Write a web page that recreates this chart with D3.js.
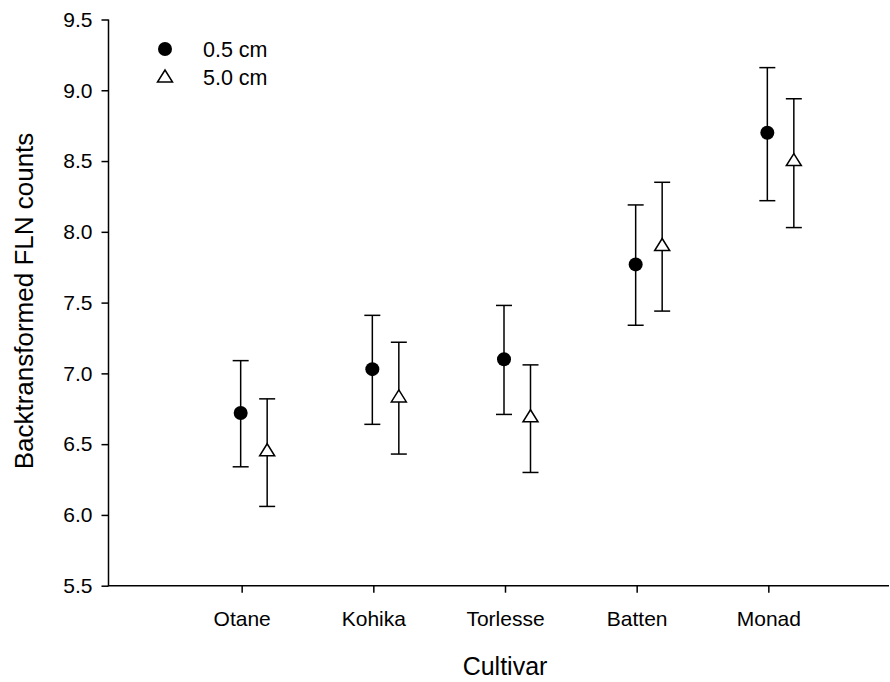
<!DOCTYPE html>
<html>
<head>
<meta charset="utf-8">
<script src="https://cdn.jsdelivr.net/npm/d3@7"></script>
<style>
  html, body { margin: 0; padding: 0; background: #fff; }
  svg { display: block; font-family: "Liberation Sans", Arial, sans-serif; }
</style>
</head>
<body>
<svg id="chart" width="890" height="682"></svg>
<script>
// Cultivars on the x axis
const cultivars = ["Otane", "Kohika", "Torlesse", "Batten", "Monad"];

// 0.5 cm treatment: mean and error-bar limits
const mean05  = [6.72, 7.03, 7.10, 7.77, 8.70];
const upper05 = [7.09, 7.41, 7.48, 8.19, 9.16];
const lower05 = [6.34, 6.64, 6.71, 7.34, 8.22];

// 5.0 cm treatment: mean and error-bar limits
const mean50  = [6.45, 6.83, 6.69, 7.90, 8.50];
const upper50 = [6.82, 7.22, 7.06, 8.35, 8.94];
const lower50 = [6.06, 6.43, 6.30, 7.44, 8.03];

const yTicks = [5.5, 6.0, 6.5, 7.0, 7.5, 8.0, 8.5, 9.0, 9.5];
const legendLabels = ["0.5 cm", "5.0 cm"];

const svg = d3.select("#chart");
const axisX0 = 108.5, axisX1 = 889;
const yTop = 19.5, yBottom = 585.7;

const y = d3.scaleLinear().domain([5.5, 9.5]).range([yBottom, yTop]);
// category positions 1..5 on a linear scale
const x = d3.scaleLinear().domain([0, 6]).range([110, 900]);

const ink = "#000";
const font = "Liberation Sans, Arial, sans-serif";

// Y axis
const yAxis = d3.axisLeft(y).tickValues(yTicks).tickFormat(d3.format(".1f"))
  .tickSize(7).tickPadding(9);
const gy = svg.append("g").attr("transform", `translate(${axisX0},0)`).call(yAxis);
gy.select(".domain").remove();
gy.append("line").attr("x1", 0).attr("x2", 0).attr("y1", yTop).attr("y2", yBottom)
  .attr("stroke", ink).attr("stroke-width", 1.5);
gy.selectAll(".tick line").attr("stroke", ink).attr("stroke-width", 1.5);
gy.selectAll(".tick text").attr("fill", ink).attr("font-size", 21).attr("font-family", font);

// X axis
const xAxis = d3.axisBottom(x).tickValues(d3.range(1, cultivars.length + 1))
  .tickFormat(i => cultivars[i - 1]).tickSize(7).tickPadding(18);
const gx = svg.append("g").attr("transform", `translate(0,${yBottom})`).call(xAxis);
gx.select(".domain").remove();
gx.append("line").attr("x1", axisX0 - 0.75).attr("x2", axisX1).attr("y1", 0).attr("y2", 0)
  .attr("stroke", ink).attr("stroke-width", 1.5);
gx.selectAll(".tick line").attr("stroke", ink).attr("stroke-width", 1.5);
gx.selectAll(".tick text").attr("fill", ink).attr("font-size", 21).attr("font-family", font);

// Axis titles
svg.append("text").attr("x", x(3)).attr("y", 675).attr("text-anchor", "middle")
  .attr("font-size", 25).attr("fill", ink).text("Cultivar");
svg.append("text")
  .attr("transform", "translate(33,301) rotate(-90)")
  .attr("text-anchor", "middle").attr("font-size", 26).attr("fill", ink)
  .text("Backtransformed FLN counts");

// Error bars with caps
const capHalf = 8;
function errorBars(means, ups, lows, dx) {
  const g = svg.append("g").attr("stroke", ink).attr("stroke-width", 1.5).attr("fill", "none");
  means.forEach((m, i) => {
    const cx = x(i + 1) + dx;
    g.append("line").attr("x1", cx).attr("x2", cx).attr("y1", y(ups[i])).attr("y2", y(lows[i]));
    g.append("line").attr("x1", cx - capHalf).attr("x2", cx + capHalf).attr("y1", y(ups[i])).attr("y2", y(ups[i]));
    g.append("line").attr("x1", cx - capHalf).attr("x2", cx + capHalf).attr("y1", y(lows[i])).attr("y2", y(lows[i]));
  });
}
const dx05 = -1, dx50 = 25.5;
errorBars(mean05, upper05, lower05, dx05);
errorBars(mean50, upper50, lower50, dx50);

// Markers
const triPath = "M0,-7 L7.5,5 L-7.5,5 Z";
svg.append("g").selectAll("circle").data(mean05).join("circle")
  .attr("cx", (d, i) => x(i + 1) + dx05).attr("cy", d => y(d)).attr("r", 7)
  .attr("fill", ink);
svg.append("g").selectAll("path").data(mean50).join("path")
  .attr("d", triPath)
  .attr("transform", (d, i) => `translate(${x(i + 1) + dx50},${y(d) - 0.5})`)
  .attr("fill", "#fff").attr("stroke", ink).attr("stroke-width", 1.5);

// Legend
const lg = svg.append("g");
lg.append("circle").attr("cx", 165).attr("cy", 49).attr("r", 7).attr("fill", ink);
lg.append("path").attr("d", triPath).attr("transform", "translate(165,77)")
  .attr("fill", "#fff").attr("stroke", ink).attr("stroke-width", 1.5);
lg.selectAll("text").data(legendLabels).join("text")
  .attr("x", 203).attr("y", (d, i) => 57 + i * 27.5)
  .attr("font-size", 21.5).attr("fill", ink).text(d => d);
</script>
</body>
</html>
